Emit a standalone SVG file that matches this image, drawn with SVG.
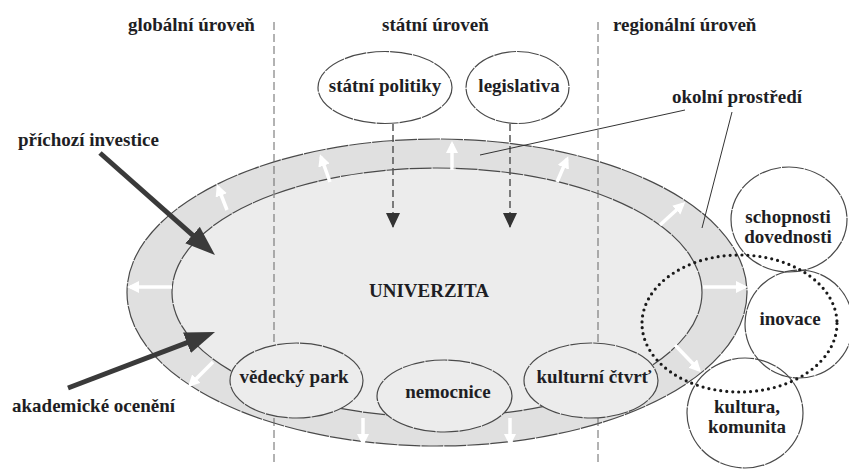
<svg xmlns="http://www.w3.org/2000/svg" width="849" height="470" viewBox="0 0 849 470">
<style>
  text { font-family: "Liberation Serif", "Times New Roman", serif; font-weight: bold; font-size: 19px; fill: #1e1e24; }
  .mid { text-anchor: middle; }
  .ol { stroke: #4a4a4a; stroke-width: 1.2; stroke-dasharray: 22 1; }
  .div { stroke: #666; stroke-width: 1; stroke-dasharray: 8 4; fill: none; }
  .small { fill: #ececec; }
  .state { fill: #fff; }
  .circ { fill: none; stroke: #4a4a4a; stroke-width: 1.2; stroke-dasharray: 22 1; }
  .dots { fill: none; stroke: #1a1a1a; stroke-width: 3.2; stroke-linecap: round; stroke-dasharray: 0 6; }
  .big { stroke: #3a3a3a; stroke-width: 5; fill: none; marker-end: url(#bigHead); }
  .wa { stroke: #fff; stroke-width: 3.5; fill: none; marker-end: url(#whiteHead); }
  .da { stroke: #555; stroke-width: 1.5; stroke-dasharray: 7 4; fill: none; marker-end: url(#darkHead); }
  .ptr { stroke: #333; stroke-width: 1; fill: none; }
</style>
<defs>
  <marker id="bigHead" markerUnits="userSpaceOnUse" markerWidth="30" markerHeight="24" refX="10" refY="11" orient="auto">
    <path d="M0,0 L30,11 L0,22 z" fill="#3a3a3a"/>
  </marker>
  <marker id="whiteHead" markerUnits="userSpaceOnUse" markerWidth="13" markerHeight="13" refX="9" refY="6" orient="auto">
    <path d="M0,0 L12,6 L0,12 z" fill="#fff"/>
  </marker>
  <marker id="darkHead" markerUnits="userSpaceOnUse" markerWidth="16" markerHeight="16" refX="14" refY="7" orient="auto">
    <path d="M0,0 L15,7 L0,14 z" fill="#333"/>
  </marker>
</defs>

<rect width="849" height="470" fill="#fff"/>

<g id="univerzita">
  <ellipse class="ol" cx="437" cy="292.5" rx="310" ry="153.5" fill="#e0e0e0"/>
  <ellipse class="ol" cx="437" cy="292.5" rx="265" ry="124.5" fill="#ececec"/>
  <text class="mid" x="429" y="297">UNIVERZITA</text>
</g>

<g id="level-dividers">
  <line class="div" x1="274" y1="22" x2="274" y2="466"/>
  <line class="div" x1="598" y1="22" x2="598" y2="466"/>
</g>

<g id="level-labels">
  <text x="128" y="31">globální úroveň</text>
  <text x="382" y="31">státní úroveň</text>
  <text x="613" y="31">regionální úroveň</text>
</g>

<g id="statni-politiky">
  <ellipse class="ol state" cx="385" cy="87.5" rx="67" ry="36"/>
  <text class="mid" x="385" y="92">státní politiky</text>
</g>
<g id="legislativa">
  <ellipse class="ol state" cx="517.5" cy="87.5" rx="51.5" ry="36"/>
  <text class="mid" x="519" y="92">legislativa</text>
</g>

<g id="vedecky-park">
  <ellipse class="ol small" cx="296.5" cy="380.5" rx="66.5" ry="37.5"/>
  <text class="mid" x="294" y="383">vědecký park</text>
</g>
<g id="nemocnice">
  <ellipse class="ol small" cx="444.5" cy="396" rx="67.5" ry="36"/>
  <text class="mid" x="448" y="398">nemocnice</text>
</g>
<g id="kulturni-ctvrt">
  <ellipse class="ol small" cx="591" cy="380.5" rx="67" ry="37.5"/>
  <text class="mid" x="594" y="383">kulturní čtvrť</text>
</g>

<g id="schopnosti">
  <ellipse class="circ" cx="789" cy="219.5" rx="58" ry="52.5"/>
  <text class="mid" x="788" y="223">schopnosti</text>
  <text class="mid" x="788" y="243">dovednosti</text>
</g>
<g id="inovace">
  <ellipse class="circ" cx="799" cy="324" rx="54" ry="54"/>
  <text class="mid" x="790" y="325">inovace</text>
</g>
<g id="kultura">
  <ellipse class="circ" cx="745" cy="413" rx="58" ry="55"/>
  <text class="mid" x="747" y="413">kultura,</text>
  <text class="mid" x="747" y="433">komunita</text>
</g>
<g id="regionalni-oblast">
  <ellipse class="dots" cx="739.5" cy="323.5" rx="97.5" ry="68.5"/>
</g>

<g id="prichozi-investice">
  <text x="18" y="146">příchozí investice</text>
</g>
<g id="akademicke-oceneni">
  <text x="12" y="412">akademické ocenění</text>
</g>
<g id="okolni-prostredi">
  <text x="672" y="103">okolní prostředí</text>
</g>

<g id="connectors">
  <line class="big" x1="100" y1="153" x2="200" y2="241.7"/>
  <line class="big" x1="68" y1="388" x2="196.3" y2="339.1"/>

  <line class="da" x1="393" y1="124" x2="393" y2="227"/>
  <line class="da" x1="510" y1="124" x2="510" y2="227"/>

  <line class="ptr" x1="685" y1="110" x2="480" y2="155"/>
  <line class="ptr" x1="732" y1="112" x2="702" y2="228"/>

  <line class="wa" x1="172" y1="287" x2="130" y2="287"/>
  <line class="wa" x1="227" y1="210" x2="218" y2="187"/>
  <line class="wa" x1="330" y1="182" x2="321" y2="157"/>
  <line class="wa" x1="452" y1="170" x2="452" y2="144"/>
  <line class="wa" x1="557" y1="182" x2="567" y2="159"/>
  <line class="wa" x1="660" y1="225" x2="683" y2="204"/>
  <line class="wa" x1="703" y1="287" x2="745" y2="287"/>
  <line class="wa" x1="675" y1="345" x2="699" y2="370"/>
  <line class="wa" x1="510" y1="418" x2="510" y2="443"/>
  <line class="wa" x1="363" y1="418" x2="363" y2="443"/>
  <line class="wa" x1="213" y1="362" x2="190" y2="385"/>
</g>
</svg>
